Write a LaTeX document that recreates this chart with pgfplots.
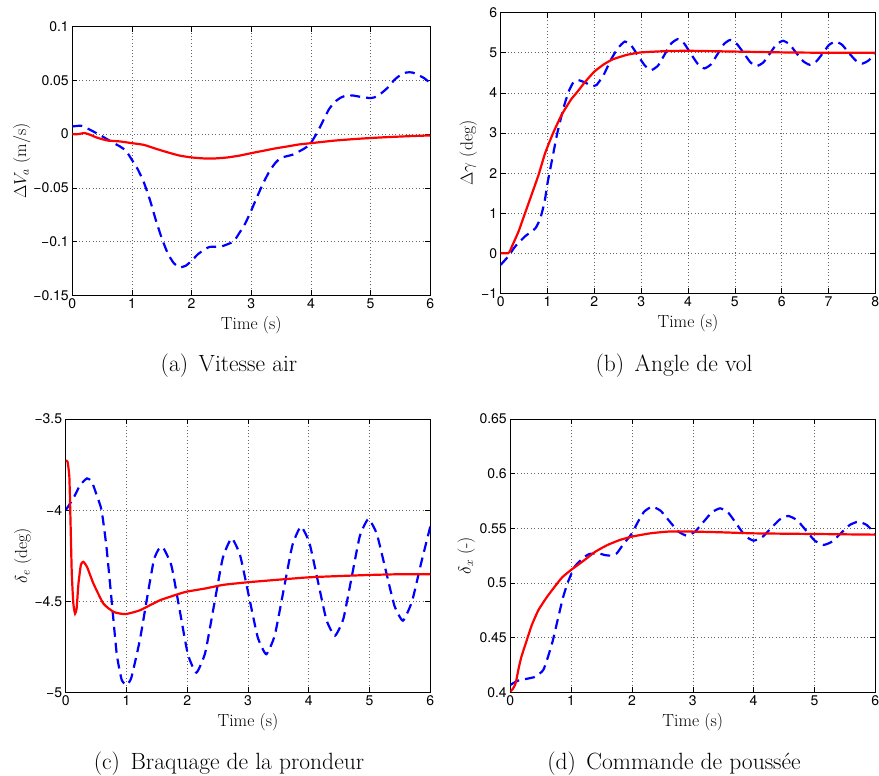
\documentclass[border=0pt]{standalone}
\usepackage{fontspec}
\usepackage{pgfplots}
\pgfplotsset{compat=1.18}
\newfontfamily\heros{TeX Gyre Heros}
\definecolor{mred}{RGB}{255,0,0}
\definecolor{mblue}{RGB}{0,0,255}
\pgfplotsset{
  mstyle/.style={
    scale only axis, anchor=south west,
    tick align=inside, major tick length=5pt,
    grid=major, major grid style={dash pattern=on 0.8pt off 2.6pt, black!60, line width=0.6pt},
    axis line style={line width=0.8pt},
    tick style={black, line width=0.6pt},
    ticklabel style={font=\heros\fontsize{14}{15}\selectfont},
    label style={font=\fontsize{17.5}{19}\selectfont},
    xlabel={Time (s)},
    xlabel style={at={(axis description cs:0.5,0)}, anchor=base, yshift=-34pt},
  },
  redl/.style={mred, line width=2.2pt, smooth, tension=0.3},
  bluel/.style={mblue, line width=2.2pt, dash pattern=on 10pt off 6pt, smooth, tension=0.3},
}
\begin{document}
\begin{tikzpicture}
\useasboundingbox (0,0) rectangle (879pt,776pt);
% ---------------- (a)
\begin{axis}[mstyle, at={(72.3pt,480.7pt)}, width=358pt, height=268.6pt,
  xmin=0, xmax=6, ymin=-0.15, ymax=0.1,
  xtick={0,1,2,3,4,5,6},
  ytick={-0.15,-0.1,-0.05,0,0.05,0.1},
  yticklabels={−0.15,−0.1,−0.05,0,0.05,0.1},
  xticklabels={0,1,2,3,4,5,6},
  ylabel={$\Delta V_a$ (m/s)},
  ylabel style={at={(axis description cs:-0.141,0.5)}, anchor=center}]
\addplot[bluel] coordinates {(0,0.0071)(0.15,0.0078)(0.3,0.004)(0.5,-0.002)(0.7,-0.0085)(0.8,-0.0115)(0.9,-0.0155)(1.0,-0.024)(1.1,-0.033)(1.2,-0.045)(1.3,-0.061)(1.4,-0.080)(1.5,-0.097)(1.6,-0.111)(1.7,-0.120)(1.8,-0.124)(1.9,-0.1225)(2.0,-0.118)(2.1,-0.112)(2.2,-0.108)(2.3,-0.105)(2.5,-0.1045)(2.7,-0.100)(2.8,-0.092)(2.9,-0.083)(3.0,-0.071)(3.1,-0.058)(3.2,-0.0456)(3.3,-0.035)(3.4,-0.027)(3.5,-0.022)(3.7,-0.019)(3.9,-0.013)(4.0,-0.008)(4.1,0.001)(4.2,0.012)(4.3,0.023)(4.4,0.030)(4.5,0.034)(4.6,0.036)(4.7,0.036)(4.8,0.035)(5.0,0.0335)(5.1,0.035)(5.2,0.039)(5.3,0.044)(5.4,0.0506)(5.5,0.055)(5.6,0.0574)(5.7,0.0574)(5.8,0.055)(5.9,0.052)(6.0,0.0475)};
\addplot[redl] coordinates {(0,0)(0.1,0)(0.2,0.001)(0.3,-0.0006)(0.4,-0.003)(0.5,-0.0047)(0.6,-0.006)(0.8,-0.0068)(1.0,-0.0084)(1.2,-0.010)(1.4,-0.0136)(1.6,-0.017)(1.8,-0.020)(2.0,-0.0217)(2.2,-0.0226)(2.4,-0.0226)(2.6,-0.0217)(2.8,-0.020)(3.0,-0.0177)(3.2,-0.0155)(3.4,-0.0133)(3.6,-0.0115)(3.8,-0.0096)(4.0,-0.0084)(4.4,-0.006)(4.8,-0.0043)(5.2,-0.003)(5.6,-0.002)(6.0,-0.0012)};
\end{axis}
% ---------------- (b)
\begin{axis}[mstyle, at={(500.7pt,482.7pt)}, width=374.6pt, height=280.6pt,
  xmin=0, xmax=8, ymin=-1, ymax=6,
  xtick={0,1,2,3,4,5,6,7,8},
  xticklabels={0,1,2,3,4,5,6,7,8},
  ytick={-1,0,1,2,3,4,5,6},
  yticklabels={−1,0,1,2,3,4,5,6},
  ylabel={$\Delta\gamma$ (deg)},
  ylabel style={at={(axis description cs:-0.0865,0.5)}, anchor=center}]
\addplot[bluel] coordinates {(0,-0.29)(0.16,-0.08)(0.31,0.17)(0.52,0.42)(0.74,0.62)(0.84,0.85)(0.9,1.1)(0.95,1.37)(1.0,1.75)(1.05,2.05)(1.1,2.35)(1.15,2.65)(1.2,2.95)(1.25,3.2)(1.35,3.66)(1.45,4.03)(1.55,4.26)(1.65,4.32)(1.8,4.26)(1.95,4.17)(2.05,4.2)(2.2,4.45)(2.35,4.82)(2.5,5.11)(2.65,5.28)(2.79,5.18)(2.93,4.93)(3.08,4.68)(3.22,4.57)(3.36,4.68)(3.50,4.955)(3.64,5.23)(3.78,5.34)(3.92,5.23)(4.06,4.975)(4.21,4.72)(4.35,4.61)(4.49,4.71)(4.63,4.965)(4.77,5.22)(4.90,5.32)(5.04,5.225)(5.19,4.995)(5.33,4.765)(5.47,4.67)(5.61,4.76)(5.75,4.985)(5.89,5.21)(6.03,5.30)(6.17,5.21)(6.31,5.0)(6.46,4.79)(6.60,4.70)(6.74,4.785)(6.88,4.99)(7.01,5.195)(7.15,5.28)(7.29,5.2)(7.43,5.005)(7.58,4.81)(7.72,4.73)(7.86,4.81)(8.0,5.0)};
\addplot[redl] coordinates {(0,0)(0.16,0)(0.2,0.06)(0.24,0.17)(0.38,0.54)(0.52,1.0)(0.66,1.46)(0.81,1.96)(0.95,2.5)(1.12,3.0)(1.3,3.45)(1.5,3.83)(1.64,4.03)(1.8,4.27)(2.0,4.53)(2.2,4.71)(2.4,4.84)(2.7,4.95)(3.0,5.01)(3.5,5.04)(4.0,5.05)(5.0,5.03)(6.0,5.01)(7.0,5.0)(8.0,5.0)};
\end{axis}
% ---------------- (c)
\begin{axis}[mstyle, at={(65.7pt,83.7pt)}, width=364.6pt, height=273.3pt,
  xmin=0, xmax=6, ymin=-5, ymax=-3.5,
  xtick={0,1,2,3,4,5,6},
  xticklabels={0,1,2,3,4,5,6},
  ytick={-5,-4.5,-4,-3.5},
  yticklabels={−5,−4.5,−4,−3.5},
  ylabel={$\delta_e$ (deg)},
  ylabel style={at={(axis description cs:-0.118,0.5)}, anchor=center}]
\addplot[bluel] coordinates {(0,-4.0)(0.126,-3.936)(0.236,-3.863)(0.35,-3.826)(0.43,-3.844)(0.51,-3.918)(0.59,-4.0)(0.67,-4.2)(0.757,-4.5)(0.84,-4.79)(0.92,-4.93)(1.0,-4.96)(1.08,-4.92)(1.22,-4.714)(1.33,-4.5)(1.45,-4.275)(1.53,-4.215)(1.6,-4.204)(1.74,-4.305)(1.875,-4.548)(2.01,-4.791)(2.15,-4.892)(2.295,-4.784)(2.44,-4.524)(2.585,-4.263)(2.73,-4.155)(2.87,-4.248)(3.015,-4.473)(3.16,-4.698)(3.3,-4.791)(3.44,-4.688)(3.585,-4.441)(3.73,-4.194)(3.87,-4.091)(4.01,-4.179)(4.15,-4.39)(4.29,-4.602)(4.43,-4.69)(4.57,-4.596)(4.705,-4.37)(4.84,-4.143)(4.98,-4.049)(5.12,-4.131)(5.265,-4.328)(5.41,-4.525)(5.55,-4.607)(5.70,-4.50)(5.85,-4.29)(6.0,-4.09)};
\addplot[redl] coordinates {(0,-3.729)(0.03,-3.734)(0.06,-3.817)(0.08,-4.073)(0.1,-4.348)(0.126,-4.513)(0.154,-4.568)(0.18,-4.54)(0.21,-4.403)(0.25,-4.30)(0.29,-4.284)(0.35,-4.311)(0.456,-4.403)(0.62,-4.513)(0.79,-4.559)(0.98,-4.571)(1.22,-4.55)(1.55,-4.495)(1.88,-4.458)(2.0,-4.447)(2.3,-4.43)(2.6,-4.41)(3.0,-4.396)(3.5,-4.382)(4.0,-4.369)(4.5,-4.362)(5.0,-4.356)(5.5,-4.352)(6.0,-4.352)};
\end{axis}
% ---------------- (d)
\begin{axis}[mstyle, at={(510.3pt,83.7pt)}, width=365pt, height=273.3pt,
  xmin=0, xmax=6, ymin=0.4, ymax=0.65,
  xtick={0,1,2,3,4,5,6},
  xticklabels={0,1,2,3,4,5,6},
  ytick={0.4,0.45,0.5,0.55,0.6,0.65},
  yticklabels={0.4,0.45,0.5,0.55,0.6,0.65},
  ylabel={$\delta_x$ (-)},
  ylabel style={at={(axis description cs:-0.121,0.5)}, anchor=center}]
\addplot[bluel] coordinates {(0,0.4067)(0.13,0.4107)(0.4,0.414)(0.54,0.4202)(0.62,0.4325)(0.7,0.4475)(0.79,0.469)(0.87,0.4874)(0.95,0.5012)(1.06,0.515)(1.2,0.523)(1.3,0.5265)(1.45,0.5271)(1.55,0.5256)(1.65,0.525)(1.75,0.5271)(1.85,0.5348)(2.0,0.5454)(2.1,0.5561)(2.2,0.5652)(2.33,0.5698)(2.4725,0.566)(2.615,0.5566)(2.7575,0.5472)(2.9,0.5433)(3.0375,0.5470)(3.175,0.5558)(3.3125,0.5646)(3.45,0.5683)(3.5875,0.564)(3.725,0.5535)(3.8625,0.543)(4.0,0.5387)(4.1425,0.542)(4.285,0.55)(4.4275,0.558)(4.57,0.5613)(4.715,0.5574)(4.86,0.5481)(5.005,0.5387)(5.15,0.5348)(5.2925,0.5379)(5.435,0.5455)(5.5775,0.553)(5.72,0.5561)(5.86,0.5530)(6.0,0.545)};
\addplot[redl] coordinates {(0,0.4006)(0.04,0.403)(0.08,0.407)(0.11,0.414)(0.13,0.42)(0.18,0.432)(0.27,0.4475)(0.35,0.461)(0.46,0.475)(0.6,0.487)(0.73,0.4966)(0.85,0.505)(1.0,0.512)(1.22,0.521)(1.4,0.5287)(1.6,0.5348)(1.8,0.5393)(2.0,0.5424)(2.3,0.5454)(2.6,0.547)(3.0,0.547)(3.5,0.5463)(4.0,0.5454)(5.0,0.5448)(6.0,0.5442)};
\end{axis}
% captions
\node[anchor=base, font=\fontsize{23.5}{27}\selectfont] at (229pt,404pt) {(a)\hspace{0.45em}Vitesse air};
\node[anchor=base, font=\fontsize{23.5}{27}\selectfont] at (674pt,404pt) {(b)\hspace{0.45em}Angle de vol};
\node[anchor=base, font=\fontsize{23.5}{27}\selectfont] at (229pt,6pt) {(c)\hspace{0.45em}Braquage de la prondeur};
\node[anchor=base, font=\fontsize{23.5}{27}\selectfont] at (674pt,6pt) {(d)\hspace{0.45em}Commande de poussée};
\end{tikzpicture}
\end{document}
